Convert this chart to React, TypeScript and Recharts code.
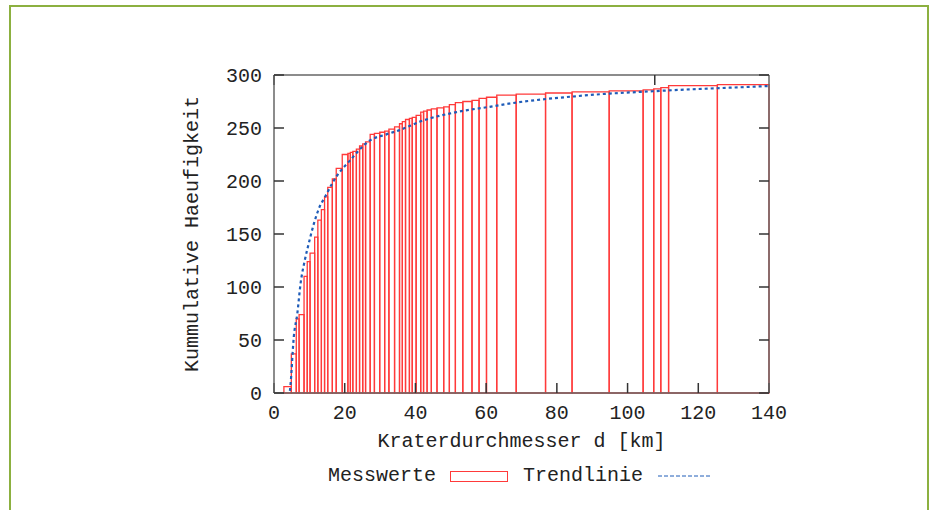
import React from 'react';
import { ComposedChart, Line, XAxis, YAxis, ReferenceArea } from 'recharts';

// Left edges of the measurement boxes (crater diameter d in km)
const craterDiameters = [
  2.8, 4.9, 6.3, 7.1, 8.5, 9.4, 10.2, 11.5, 12.4, 13.4, 14.3, 15.2, 16.5, 17.6,
  19.3, 20.9, 21.6, 22.3, 23.3, 24.2, 25.1, 25.9, 27.2, 28.4, 29.9, 31.3, 32.5,
  34.1, 35.5, 36.3, 37.2, 38.3, 39.1, 40.2, 41.5, 42.3, 43.3, 44.5, 46.1, 48.0,
  49.6, 51.3, 53.4, 56.0, 58.0, 60.1, 63.0, 68.5, 76.8, 84.3, 94.8, 104.4,
  107.4, 109.4, 111.6, 125.4,
];
// Cumulative frequency for each box
const cumulativeCounts = [
  6, 37, 70, 74, 110, 124, 132, 147, 163, 173, 185, 194, 202, 212,
  225, 226, 227, 228, 230, 233, 235, 237, 244, 245, 246, 247, 249,
  251, 254, 256, 258, 259, 260, 262, 265, 266, 267, 268, 269, 270,
  272, 274, 275, 276, 278, 279, 281, 282, 283, 284, 285, 286,
  287, 288, 290, 291,
];

// Trend line
const trendDiameters = [
  4.5, 4.7, 5.6, 6.6, 7.5, 8.7, 9.9, 11.3, 12.7, 14.6, 16.5, 17.6, 21.4,
  27.0, 31.8, 35.5, 42.1, 51.6, 61.0, 68.5, 76.0, 85.5, 94.9, 103.4, 114.7,
  128.8, 140,
];
const trendCounts = [
  2, 9, 53, 75, 103, 125, 142, 160, 174, 186, 198, 204, 219,
  238, 244, 248, 257, 265, 270, 274, 277, 280, 282.5, 284, 286,
  288, 289.6,
];

const xTicks = [0, 20, 40, 60, 80, 100, 120, 140];
const yTicks = [0, 50, 100, 150, 200, 250, 300];
const X_MAX = 140;
const Y_MAX = 300;

const trendData = trendDiameters.map((d, i) => ({ d, n: trendCounts[i] }));
const boxes = craterDiameters.map((d, i) => ({
  x1: d,
  x2: i + 1 < craterDiameters.length ? craterDiameters[i + 1] : X_MAX,
  y: cumulativeCounts[i],
}));

const FONT = '"Liberation Mono", "DejaVu Sans Mono", monospace';
const RED = '#ff3a3a';
const BLUE = '#1f5cb8';
const AXIS = '#666';
const tickStyle = { fontFamily: FONT, fontSize: 20, fill: '#222' };

export default function App() {
  return (
    <div
      style={{
        position: 'absolute',
        left: 0,
        top: 0,
        width: 932,
        height: 510,
        overflow: 'hidden',
        background: '#fff',
      }}
    >
      <div
        style={{
          position: 'absolute',
          left: 9,
          top: 5,
          width: 920,
          height: 600,
          boxSizing: 'border-box',
          border: '2px solid #8cb040',
        }}
      />
      <div style={{ position: 'absolute', left: 0, top: 0 }}>
        <ComposedChart
          width={932}
          height={510}
          data={trendData}
          margin={{ top: 70, right: 158, bottom: 52, left: 174 }}
        >
          <XAxis
            dataKey="d"
            type="number"
            domain={[0, X_MAX]}
            ticks={xTicks}
            allowDataOverflow
            height={65}
            tickSize={-10}
            tickMargin={22}
            tick={tickStyle}
            axisLine={{ stroke: AXIS, strokeWidth: 1.5 }}
            tickLine={{ stroke: '#333', strokeWidth: 1.5 }}
            label={{
              value: 'Kraterdurchmesser d [km]',
              position: 'insideBottom',
              offset: 11,
              style: { fontFamily: FONT, fontSize: 20, fill: '#222' },
            }}
          />
          <XAxis
            xAxisId="top"
            orientation="top"
            type="number"
            domain={[0, X_MAX]}
            ticks={xTicks}
            allowDataOverflow
            height={5}
            tickSize={-10}
            tickFormatter={() => ''}
            axisLine={{ stroke: AXIS, strokeWidth: 1.5 }}
            tickLine={{ stroke: '#333', strokeWidth: 1.5 }}
          />
          <YAxis
            type="number"
            domain={[0, Y_MAX]}
            ticks={yTicks}
            allowDataOverflow
            width={100}
            tickSize={-10}
            tickMargin={22}
            tick={tickStyle}
            axisLine={{ stroke: AXIS, strokeWidth: 1.5 }}
            tickLine={{ stroke: '#333', strokeWidth: 1.5 }}
            label={{
              value: 'Kummulative Haeufigkeit',
              angle: -90,
              position: 'insideLeft',
              offset: 17,
              style: { fontFamily: FONT, fontSize: 20, fill: '#222', textAnchor: 'middle' },
            }}
          />
          <YAxis
            yAxisId="right"
            orientation="right"
            type="number"
            domain={[0, Y_MAX]}
            ticks={yTicks}
            allowDataOverflow
            width={5}
            tickSize={-10}
            tickFormatter={() => ''}
            axisLine={{ stroke: AXIS, strokeWidth: 1.5 }}
            tickLine={{ stroke: '#333', strokeWidth: 1.5 }}
          />
          {boxes.map((b, i) => (
            <ReferenceArea
              key={i}
              x1={b.x1}
              x2={b.x2}
              y1={0}
              y2={b.y}
              fill="none"
              fillOpacity={0}
              stroke={RED}
              strokeWidth={1.3}
              ifOverflow="visible"
            />
          ))}
          <Line
            type="monotone"
            dataKey="n"
            stroke={BLUE}
            strokeWidth={2.2}
            strokeDasharray="3 3"
            dot={false}
            activeDot={false}
            isAnimationActive={false}
          />
        </ComposedChart>
      </div>
      <div
        style={{
          position: 'absolute',
          left: 328,
          top: 464,
          display: 'flex',
          alignItems: 'center',
          fontFamily: FONT,
          fontSize: 20,
          lineHeight: '24px',
          color: '#222',
          whiteSpace: 'pre',
        }}
      >
        <span>Messwerte</span>
        <span
          style={{
            display: 'inline-block',
            marginLeft: 14,
            width: 58,
            height: 11,
            boxSizing: 'border-box',
            border: `1.5px solid ${RED}`,
          }}
        />
        <span style={{ marginLeft: 15 }}>Trendlinie</span>
        <svg width={54} height={4} style={{ marginLeft: 15 }}>
          <line x1={0} y1={2} x2={54} y2={2} stroke={BLUE} strokeWidth={1} strokeDasharray="4 2" />
        </svg>
      </div>
    </div>
  );
}
